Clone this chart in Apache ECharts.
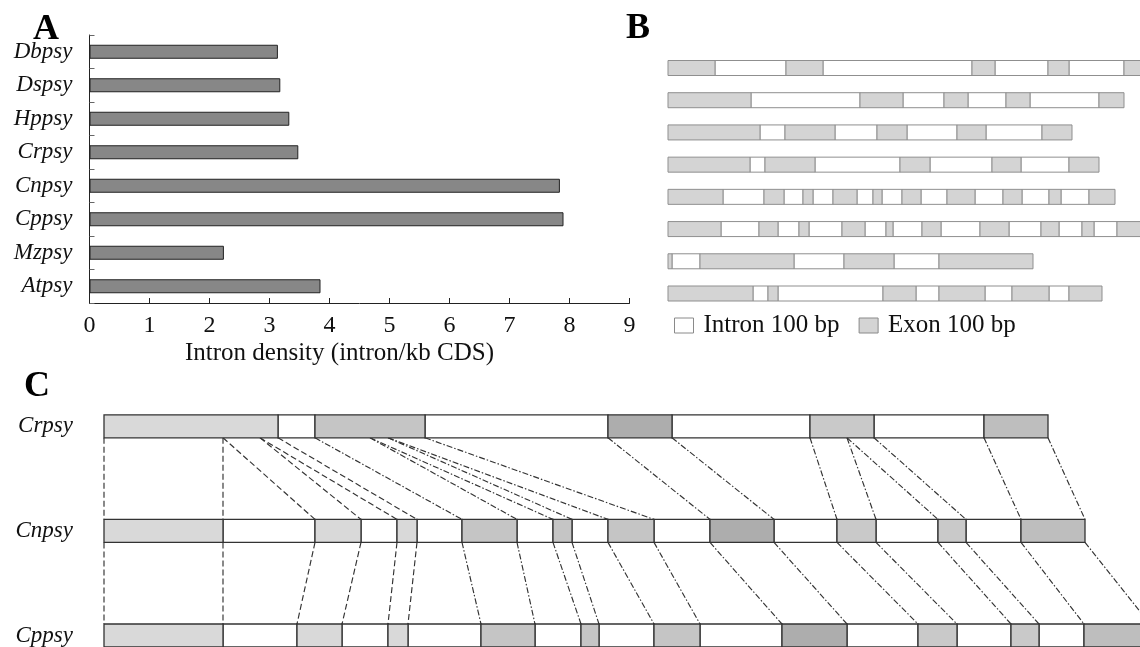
<!DOCTYPE html>
<html><head><meta charset="utf-8">
<script src="https://cdn.jsdelivr.net/npm/echarts@6/dist/echarts.min.js"></script>
<style>html,body{margin:0;padding:0;background:#fff}#c{width:1140px;height:647px}</style>
</head><body><div id="c"></div>
<script>
// ---------- Panel A: intron density ----------
const catsA = ['Dbpsy','Dspsy','Hppsy','Crpsy','Cnpsy','Cppsy','Mzpsy','Atpsy'];
const densityA = [3.14, 3.18, 3.33, 3.48, 7.84, 7.90, 2.24, 3.85];
const axisTitleA = 'Intron density (intron/kb CDS)';

// ---------- Panel B: gene structures (segment lengths, bp; exon, intron, exon, ...) ----------
const bDbpsy = [235,355,185,745,115,265,105,275,130];
const bDspsy = [415,545,215,205,120,190,120,345,125];
const bHppsy = [460,125,250,210,150,250,145,280,150];
const bCrpsy = [410,75,250,425,150,310,145,240,150];
const bCnpsy = [275,205,100,95,50,100,120,80,45,100,95,130,140,140,95,135,60,140,130];
const bCppsy = [265,190,95,105,50,165,115,105,35,145,95,195,145,160,90,115,60,115,165];
const bMzpsy = [20,140,470,250,250,225,470];
const bAtpsy = [425,75,50,525,165,115,230,135,185,100,165];
const rowsB = [bDbpsy,bDspsy,bHppsy,bCrpsy,bCnpsy,bCppsy,bMzpsy,bAtpsy];
const legendB = ['Intron 100 bp','Exon 100 bp'];

// ---------- Panel C: aligned structures ----------
const catsC = ['Crpsy','Cnpsy','Cppsy'];
const cCrpsy = [870,185,550,915,320,690,320,550,320];
const cCnpsy = [595,460,230,180,100,225,275,180,95,180,230,280,320,315,195,310,140,275,320];
const cCppsy = [595,370,225,230,100,365,270,230,90,275,230,410,325,355,195,270,140,225,330];
const shadeCrpsy = [0,1,2,3,4];
const shadeCnpsy = [0,0,0,1,1,1,2,3,3,4];
const shadeCppsy = [0,0,0,1,1,1,2,3,3,4];
// links: [position on upper gene (bp), position on lower gene (bp), style]
const linksCrCn = [[0,0,'d'],[595,595,'d'],[595,1055,'d'],[780,1285,'d'],[780,1465,'d'],[870,1565,'d'],
  [1055,1790,'dd'],[1330,2065,'dd'],[1330,2245,'dd'],[1420,2340,'dd'],[1420,2520,'dd'],[1605,2750,'dd'],
  [2520,3030,'dd'],[2840,3350,'dd'],[3530,3665,'dd'],[3715,3860,'dd'],[3715,4170,'dd'],[3850,4310,'dd'],
  [4400,4585,'dd'],[4720,4905,'dd']];
const linksCnCp = [[0,0,'d'],[595,595,'d'],[1055,965,'d'],[1285,1190,'d'],[1465,1420,'d'],[1565,1520,'d'],
  [1790,1885,'dd'],[2065,2155,'dd'],[2245,2385,'dd'],[2340,2475,'dd'],[2520,2750,'dd'],[2750,2980,'dd'],
  [3030,3390,'dd'],[3350,3715,'dd'],[3665,4070,'dd'],[3860,4265,'dd'],[4170,4535,'dd'],[4310,4675,'dd'],
  [4585,4900,'dd'],[4905,5230,'dd']];

// ---------- styles ----------
const SERIF = "'Liberation Serif','Times New Roman',serif";
const shadesC = ['#d9d9d9','#c5c5c5','#adadad','#c9c9c9','#bebebe'];

// build segment items
function segs(rowIdx, lengths) {
  const ex = [], intr = [];
  let pos = 0;
  lengths.forEach((len, i) => {
    const item = [rowIdx, pos, pos + len];
    (i % 2 === 0 ? ex : intr).push(item);
    pos += len;
  });
  return {ex, intr};
}
const bEx = [], bIn = [];
rowsB.forEach((r, i) => { const s = segs(i, r); bEx.push(...s.ex); bIn.push(...s.intr); });

const cRows = [cCrpsy, cCnpsy, cCppsy];
const cShades = [shadeCrpsy, shadeCnpsy, shadeCppsy];
const cItems = [];
cRows.forEach((r, i) => {
  const s = segs(i, r);
  s.intr.forEach(v => cItems.push({value: v, itemStyle: {color: '#ffffff'}}));
  s.ex.forEach((v, k) => cItems.push({value: v, itemStyle: {color: shadesC[cShades[i][k]]}}));
});
const linkItems = [];
linksCrCn.forEach(l => linkItems.push([0, l[0], l[1], l[2] === 'd' ? 0 : 1]));
linksCnCp.forEach(l => linkItems.push([1, l[0], l[1], l[2] === 'd' ? 0 : 1]));

function rectRender(h, stroke, lw) {
  return function (params, api) {
    const g = api.value(0);
    const p0 = api.coord([api.value(1), g]);
    const p1 = api.coord([api.value(2), g]);
    return {
      type: 'rect',
      shape: {x: p0[0], y: p0[1] - h / 2, width: p1[0] - p0[0], height: h},
      style: {fill: api.visual('color'), stroke: stroke, lineWidth: lw}
    };
  };
}
const ROW_C = 23;
function linkRender(params, api) {
  const g = api.value(0);
  const a = api.coord([api.value(1), g]);
  const b = api.coord([api.value(2), g + 1]);
  const dash = api.value(3) === 0 ? [6, 3] : [6, 2, 1.5, 2];
  return {
    type: 'line',
    shape: {x1: a[0], y1: a[1] + ROW_C / 2, x2: b[0], y2: b[1] - ROW_C / 2},
    style: {stroke: '#333', lineWidth: 1.15, lineDash: dash}
  };
}

const chart = echarts.init(document.getElementById('c'), null, {renderer: 'canvas'});
const titleStyle = {fontFamily: SERIF, fontSize: 36, fontWeight: 'bold', color: '#000'};
chart.setOption({
  animation: false,
  backgroundColor: '#fff',
  title: [
    {text: 'A', left: 33, top: 12, padding: 0, textStyle: titleStyle},
    {text: 'B', left: 626, top: 11, padding: 0, textStyle: titleStyle},
    {text: 'C', left: 24, top: 369, padding: 0, textStyle: titleStyle}
  ],
  legend: {
    left: 674, top: 313, padding: 0, itemWidth: 19, itemHeight: 15, itemGap: 19,
    selectedMode: false,
    textStyle: {fontFamily: SERIF, fontSize: 25, color: '#111', padding: [0, 0, 0, 5]},
    data: [
      {name: legendB[0], icon: 'rect', itemStyle: {color: '#ffffff', borderColor: '#8a8a8a', borderWidth: 1}},
      {name: legendB[1], icon: 'rect', itemStyle: {color: '#d4d4d4', borderColor: '#8a8a8a', borderWidth: 1}}
    ]
  },
  grid: [
    {left: 89.5, top: 35, width: 540, height: 268},
    {left: 668, right: 0, top: 68, bottom: 353.5},
    {left: 104, right: 0, top: 426.3, bottom: 8.7}
  ],
  xAxis: [
    {gridIndex: 0, type: 'value', min: 0, max: 9, interval: 1,
     axisLine: {show: true, lineStyle: {color: '#222', width: 1}},
     axisTick: {show: true, inside: true, length: 5, lineStyle: {color: '#222'}},
     splitLine: {show: false},
     axisLabel: {margin: 11, fontSize: 24, fontFamily: SERIF, color: '#111'},
     name: axisTitleA, nameLocation: 'middle', nameGap: 38,
     nameTextStyle: {fontSize: 25, fontFamily: SERIF, color: '#111', padding: [0, 40, 0, 0]}},
    {gridIndex: 1, type: 'value', min: 0, max: 2360, show: false},
    {gridIndex: 2, type: 'value', min: 0, max: 5180, show: false}
  ],
  yAxis: [
    {gridIndex: 0, type: 'category', data: catsA, inverse: true,
     axisLine: {show: true, lineStyle: {color: '#222', width: 1}},
     axisTick: {show: true, inside: true, length: 5, lineStyle: {color: '#666'}},
     axisLabel: {fontSize: 23, fontStyle: 'italic', fontFamily: SERIF, color: '#111', margin: 17}},
    {gridIndex: 1, type: 'category', data: catsA, inverse: true, boundaryGap: false, show: false},
    {gridIndex: 2, type: 'category', data: catsC, inverse: true, boundaryGap: false,
     axisLine: {show: false}, axisTick: {show: false}, splitLine: {show: false},
     axisLabel: {fontSize: 23, fontStyle: 'italic', fontFamily: SERIF, color: '#111', margin: 31}}
  ],
  series: [
    {type: 'bar', name: 'density', xAxisIndex: 0, yAxisIndex: 0, data: densityA, barWidth: 14,
     itemStyle: {color: '#878787', borderColor: '#222', borderWidth: 1}},
    {type: 'custom', name: legendB[0], xAxisIndex: 1, yAxisIndex: 1, data: bIn, clip: false,
     encode: {x: [1, 2], y: 0}, itemStyle: {color: '#ffffff'},
     renderItem: rectRender(15, '#8f8f8f', 1)},
    {type: 'custom', name: legendB[1], xAxisIndex: 1, yAxisIndex: 1, data: bEx, clip: false,
     encode: {x: [1, 2], y: 0}, itemStyle: {color: '#d4d4d4'},
     renderItem: rectRender(15, '#8f8f8f', 1)},
    {type: 'custom', name: 'links', xAxisIndex: 2, yAxisIndex: 2, data: linkItems, clip: false,
     encode: {x: [1, 2], y: 0}, renderItem: linkRender},
    {type: 'custom', name: 'genesC', xAxisIndex: 2, yAxisIndex: 2, data: cItems, clip: false,
     encode: {x: [1, 2], y: 0}, renderItem: rectRender(ROW_C, '#333', 1.3)}
  ]
});
</script></body></html>
